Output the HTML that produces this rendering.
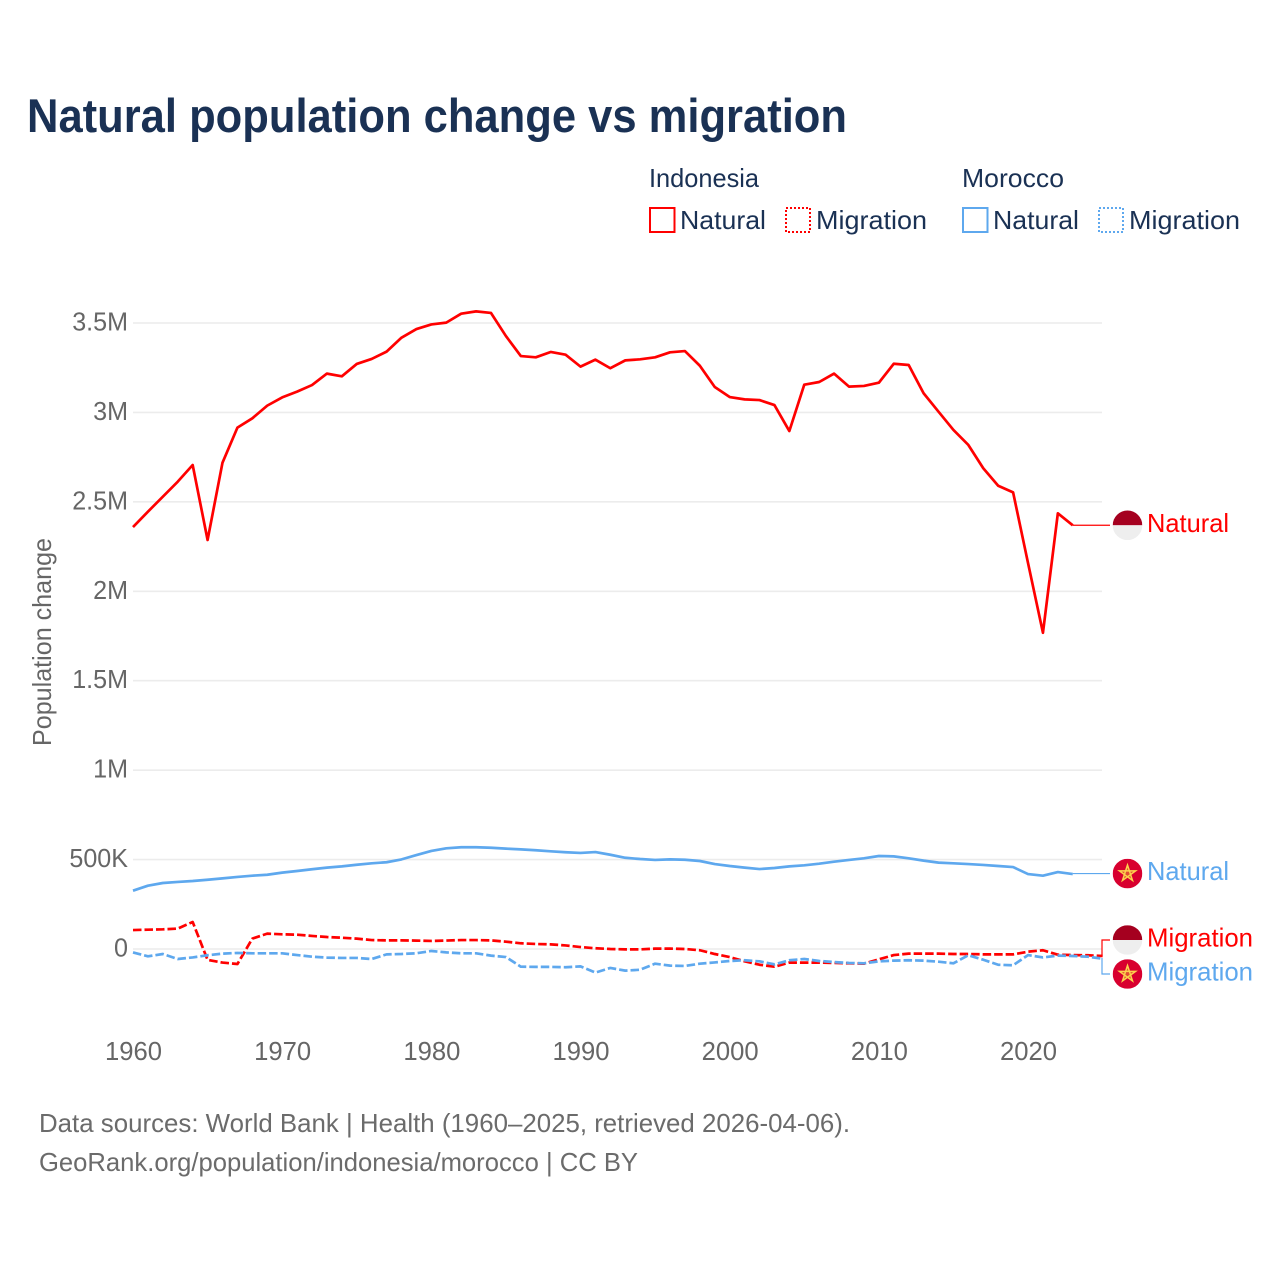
<!DOCTYPE html>
<html lang="en">
<head>
<meta charset="utf-8">
<title>Natural population change vs migration</title>
<style>
  html, body { margin: 0; padding: 0; background: #fff; }
  svg { display: block; font-family: "Liberation Sans", Arial, sans-serif; }
</style>
</head>
<body>
<svg id="chart" xmlns="http://www.w3.org/2000/svg" width="1280" height="1280" viewBox="0 0 1280 1280">
  <rect x="0" y="0" width="1280" height="1280" fill="#ffffff"/>
  <text x="27" y="132" font-size="47" font-weight="700" fill="#1a3154" textLength="820" lengthAdjust="spacingAndGlyphs">Natural population change vs migration</text>

  <g font-size="26" fill="#1a3154">
    <text x="649" y="187" textLength="110" lengthAdjust="spacingAndGlyphs">Indonesia</text>
    <text x="962" y="187" textLength="102" lengthAdjust="spacingAndGlyphs">Morocco</text>
    <g>
      <rect x="650" y="208" width="24.5" height="24" fill="none" stroke="#ff0000" stroke-width="2"/>
      <text x="680" y="229" textLength="86" lengthAdjust="spacingAndGlyphs">Natural</text>
    </g>
    <g>
      <rect x="786" y="208" width="24" height="24" fill="none" stroke="#ff0000" stroke-width="2" stroke-dasharray="2 2"/>
      <text x="816" y="229" textLength="111" lengthAdjust="spacingAndGlyphs">Migration</text>
    </g>
    <g>
      <rect x="963" y="208" width="24.5" height="24" fill="none" stroke="#5ea8ee" stroke-width="2"/>
      <text x="993" y="229" textLength="86" lengthAdjust="spacingAndGlyphs">Natural</text>
    </g>
    <g>
      <rect x="1099" y="208" width="24" height="24" fill="none" stroke="#5ea8ee" stroke-width="2" stroke-dasharray="2 2"/>
      <text x="1129" y="229" textLength="111" lengthAdjust="spacingAndGlyphs">Migration</text>
    </g>
  </g>

  <text transform="translate(51 642) rotate(-90)" text-anchor="middle" font-size="26" fill="#666666" textLength="208" lengthAdjust="spacingAndGlyphs">Population change</text>

  <g id="grid"></g>
  <g id="yticks" font-size="26" fill="#666666" text-anchor="end"></g>
  <g id="xticks" font-size="26" fill="#666666" text-anchor="middle"></g>
  <g id="series"></g>
  <g id="labels" font-size="26"></g>

  <g font-size="26" fill="#6b6b6b">
    <text x="39" y="1132" textLength="811" lengthAdjust="spacingAndGlyphs">Data sources: World Bank | Health (1960–2025, retrieved 2026-04-06).</text>
    <text x="39" y="1171" textLength="599" lengthAdjust="spacingAndGlyphs">GeoRank.org/population/indonesia/morocco | CC BY</text>
  </g>
</svg>
<script>
// Values in thousands of people per year, first value is 1960.
const startYear = 1960;
const indonesiaNatural = [2359,2445,2529,2613,2706,2287,2719,2915,2967,3038,3084,3116,3153,3217,3202,3271,3299,3340,3418,3466,3492,3502,3552,3565,3556,3427,3315,3308,3338,3323,3256,3295,3247,3291,3297,3308,3336,3343,3261,3142,3086,3073,3069,3041,2896,3155,3170,3217,3144,3148,3166,3272,3265,3107,3004,2902,2818,2688,2590,2553,2158,1768,2436,2369];
const indonesiaMigration = [106,108,110,114,151,-61,-76,-84,58,86,82,80,73,67,63,58,50,48,48,47,45,47,50,50,48,41,32,28,26,20,11,4,0,-2,-2,2,2,0,-7,-28,-45,-69,-88,-99,-76,-76,-76,-78,-80,-82,-58,-34,-26,-26,-26,-28,-28,-30,-30,-30,-15,-7,-32,-34,-35,-39];
const moroccoNatural = [326,354,369,375,380,387,395,403,410,415,427,436,446,455,462,471,479,485,501,525,548,563,569,569,566,561,557,552,546,541,537,542,527,510,503,498,501,499,492,475,464,455,447,453,462,468,477,488,498,507,520,518,507,494,483,479,475,470,464,458,419,410,430,419];
const moroccoMigration = [-19,-41,-28,-56,-47,-35,-26,-22,-24,-24,-24,-34,-43,-48,-50,-50,-56,-30,-28,-24,-11,-19,-24,-24,-37,-45,-99,-100,-100,-102,-97,-132,-106,-121,-116,-82,-93,-95,-82,-75,-67,-63,-69,-86,-63,-56,-67,-73,-78,-80,-69,-65,-63,-65,-71,-80,-35,-60,-88,-91,-34,-47,-37,-39,-43,-54];
const yTickValues = [0,500,1000,1500,2000,2500,3000,3500];
const yTickLabels = ["0","500K","1M","1.5M","2M","2.5M","3M","3.5M"];
const xTickYears = [1960,1970,1980,1990,2000,2010,2020];

const NS = "http://www.w3.org/2000/svg";
const xScale = function (year) { return 133 + (year - 1960) * 14.917; };
const yScale = function (v) { return 949 - v * 0.17886; };

function make(tag, parent, attrs) {
  const el = document.createElementNS(NS, tag);
  for (const k in attrs) el.setAttribute(k, attrs[k]);
  parent.appendChild(el);
  return el;
}
function linePath(values) {
  return values.map(function (v, i) {
    return (i ? "L" : "M") + xScale(startYear + i).toFixed(2) + " " + yScale(v).toFixed(2);
  }).join(" ");
}

const gridG = document.getElementById("grid");
const yG = document.getElementById("yticks");
yTickValues.forEach(function (v, i) {
  const line = make("line", gridG, { x1: xScale(1960), x2: 1102, y1: yScale(v), y2: yScale(v), stroke: "#ececec", "stroke-width": 1.6 });
  
  
  const t = make("text", yG, { x: 128, y: yScale(v) + 7.5 });
  
  
  t.textContent = yTickLabels[i];
  const w = t.getComputedTextLength();
  t.setAttribute("textLength", (w * 0.965).toFixed(1));
  t.setAttribute("lengthAdjust", "spacingAndGlyphs");
});

const xG = document.getElementById("xticks");
xTickYears.forEach(function (yr) {
  const t = make("text", xG, { x: xScale(yr) + 0.5, y: 1060, textLength: 57, lengthAdjust: "spacingAndGlyphs" });
  
  
  t.textContent = String(yr);
});

const seriesG = document.getElementById("series");
const RED = "#ff0000";
const BLUE = "#5ea8ee";
function drawLine(values, color, dashed, name) {
  const p = make("path", seriesG, { d: linePath(values), fill: "none", stroke: color, "stroke-width": 2.7, "stroke-linejoin": "round" });
  if (dashed) p.setAttribute("stroke-dasharray", "8.5 3");
  
  
}
drawLine(indonesiaNatural, RED, false, "line-indonesia-natural");
drawLine(moroccoNatural, BLUE, false, "line-morocco-natural");
drawLine(indonesiaMigration, RED, true, "line-indonesia-migration");
drawLine(moroccoMigration, BLUE, true, "line-morocco-migration");

const labelsG = document.getElementById("labels");
const defs = make("defs", labelsG, {});
let clipCount = 0;
function drawFlag(country, cy) {
  const cx = 1127.5, r = 14.8;
  clipCount += 1;
  const clip = make("clipPath", defs, { id: "flag-clip-" + clipCount });
  make("circle", clip, { cx: cx, cy: cy, r: r });
  const g = make("g", labelsG, { "clip-path": "url(#flag-clip-" + clipCount + ")" });
  
  
  if (country === "indonesia") {
    make("rect", g, { x: cx - r, y: cy - r, width: 2 * r, height: r, fill: "#a5001f" });
    make("rect", g, { x: cx - r, y: cy, width: 2 * r, height: r, fill: "#eeeeee" });
  } else {
    make("rect", g, { x: cx - r, y: cy - r, width: 2 * r, height: 2 * r, fill: "#d8002f" });
    const s = [[0,-8.5],[5,6.88],[-8.08,-2.63],[8.08,-2.63],[-5,6.88]];
    make("polygon", g, {
      points: s.map(function (q) { return (cx + q[0]) + "," + (cy + q[1]); }).join(" "),
      fill: "#f2a93b", "fill-opacity": 0.45, "fill-rule": "nonzero", stroke: "#fcd34d", "stroke-width": 1.5, "stroke-linejoin": "miter"
    });
  }
}
function drawEnd(values, lastYear, labelY, color, text, width, country, stepX) {
  const x0 = xScale(lastYear), y0 = yScale(values[values.length - 1]);
  const d = stepX
    ? "M" + x0 + " " + y0 + " L" + stepX + " " + y0 + " L" + stepX + " " + labelY + " L1110 " + labelY
    : "M" + x0 + " " + labelY + " L1110 " + labelY;
  const c = make("path", labelsG, { d: d, fill: "none", stroke: color, "stroke-width": 1.2 });
  
  
  drawFlag(country, labelY);
  const t = make("text", labelsG, { x: 1147, y: labelY + 6.5, fill: color, textLength: width, lengthAdjust: "spacingAndGlyphs" });
  
  
  t.textContent = text;
}
drawEnd(indonesiaNatural, 2023, yScale(indonesiaNatural[indonesiaNatural.length - 1]), RED, "Natural", 82, "indonesia", 0);
drawEnd(moroccoNatural, 2023, yScale(moroccoNatural[moroccoNatural.length - 1]) - 0.5, BLUE, "Natural", 82, "morocco", 0);
drawEnd(indonesiaMigration, 2025, 940, RED, "Migration", 106, "indonesia", 1102);
drawEnd(moroccoMigration, 2025, 974, BLUE, "Migration", 106, "morocco", 1102);
</script>
</body>
</html>
